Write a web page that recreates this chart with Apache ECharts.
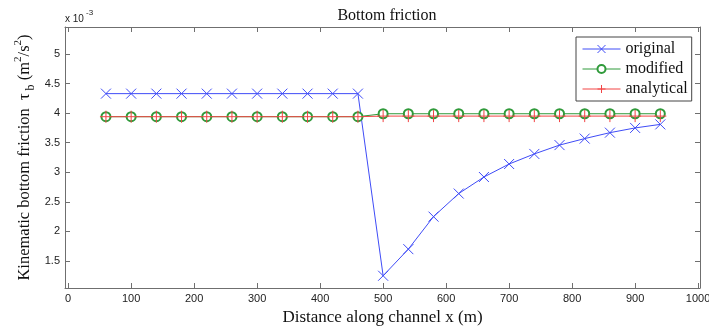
<!DOCTYPE html>
<html>
<head>
<meta charset="utf-8">
<script src="https://cdn.jsdelivr.net/npm/echarts@6/dist/echarts.min.js"></script>
<style>
  html, body { margin: 0; padding: 0; background: #fff; }
  #chart { width: 709px; height: 329px; }
</style>
</head>
<body>
<div id="chart"></div>
<script>
// distance along channel (m)
const xPos = [60, 100, 140, 180, 220, 260, 300, 340, 380, 420, 460,
  500, 540, 580, 620, 660, 700, 740, 780, 820, 860, 900, 940];
// bottom friction, x 10^-3 m^2/s^2
const original = [4.33, 4.33, 4.33, 4.33, 4.33, 4.33, 4.33, 4.33, 4.33, 4.33, 4.33,
  1.25, 1.70, 2.25, 2.64, 2.92, 3.14, 3.31, 3.46, 3.57, 3.67, 3.75, 3.81];
const modified = [3.94, 3.94, 3.94, 3.94, 3.94, 3.94, 3.94, 3.94, 3.94, 3.94, 3.94,
  3.99, 3.99, 3.99, 3.99, 3.99, 3.99, 3.99, 3.99, 3.99, 3.99, 3.99, 3.99];
const analytical = [3.94, 3.94, 3.94, 3.94, 3.94, 3.94, 3.94, 3.94, 3.94, 3.94, 3.94,
  3.95, 3.95, 3.95, 3.95, 3.95, 3.95, 3.95, 3.95, 3.95, 3.95, 3.95, 3.95];
const xTicks = [0, 100, 200, 300, 400, 500, 600, 700, 800, 900, 1000];
const yTicks = [1.5, 2, 2.5, 3, 3.5, 4, 4.5, 5];

const SERIF = '"Liberation Serif", "DejaVu Serif", serif';
const SANS = '"Liberation Sans", Arial, sans-serif';
const AXIS_COLOR = '#6f6f6f';

const CROSS = 'path://M0,0L10,10M10,0L0,10';
const PLUS = 'path://M5,0L5,10M0,5L10,5';

const pairs = (ys) => xPos.map((x, i) => [x, ys[i]]);

const chart = echarts.init(document.getElementById('chart'));

const xAxisBase = {
  type: 'value',
  min: -5,
  max: 1003,
  axisLine: { show: true, onZero: false, lineStyle: { color: AXIS_COLOR, width: 1 } },
  axisTick: { show: true, inside: true, length: 5, customValues: xTicks, lineStyle: { color: AXIS_COLOR } },
  splitLine: { show: false }
};
const yAxisBase = {
  type: 'value',
  min: 1.043,
  max: 5.457,
  axisLine: { show: true, onZero: false, lineStyle: { color: AXIS_COLOR, width: 1 } },
  axisTick: { show: true, inside: true, length: 5, customValues: yTicks, lineStyle: { color: AXIS_COLOR } },
  splitLine: { show: false }
};

chart.setOption({
  animation: false,
  backgroundColor: '#fff',
  title: {
    text: 'Bottom friction',
    left: 382,
    textAlign: 'center',
    top: 3,
    textStyle: { fontFamily: SERIF, fontSize: 16, fontWeight: 'normal', color: '#111' }
  },
  grid: { left: 65, right: 9, top: 27, bottom: 41, containLabel: false, outerBoundsMode: 'none' },
  xAxis: [
    Object.assign({}, xAxisBase, {
      position: 'bottom',
      axisLabel: {
        customValues: xTicks,
        formatter: (v) => String(v),
        fontFamily: SANS, fontSize: 11, color: '#222', margin: 5
      },
      name: 'Distance along channel x (m)',
      nameLocation: 'middle',
      nameGap: 20,
      nameTextStyle: { fontFamily: SERIF, fontSize: 17, color: '#111' }
    }),
    Object.assign({}, xAxisBase, { position: 'top', axisLabel: { show: false } })
  ],
  yAxis: [
    Object.assign({}, yAxisBase, {
      position: 'left',
      axisLabel: { customValues: yTicks, fontFamily: SANS, fontSize: 11, color: '#222', margin: 5 },
      name: '{t|Kinematic bottom friction  τ}{sub| b}{t| (m}{sup|2}{t|/s}{sup|2}{t|)}',
      nameLocation: 'middle',
      nameGap: 28,
      nameMoveOverlap: false,
      nameRotate: 90,
      nameTextStyle: {
        rich: {
          t: { fontFamily: SERIF, fontSize: 16.5, color: '#111', lineHeight: 24, verticalAlign: 'middle' },
          sub: { fontFamily: SERIF, fontSize: 12, color: '#111', lineHeight: 24, verticalAlign: 'bottom' },
          sup: { fontFamily: SERIF, fontSize: 11, color: '#111', lineHeight: 24, verticalAlign: 'top' }
        }
      }
    }),
    Object.assign({}, yAxisBase, { position: 'right', axisLabel: { show: false } })
  ],
  legend: {
    orient: 'vertical',
    left: 576,
    top: 37,
    padding: [3, 4, 3, 6],
    itemWidth: 38,
    itemHeight: 10,
    itemGap: 2,
    backgroundColor: '#fff',
    borderColor: '#444',
    borderWidth: 1,
    borderRadius: 0,
    lineStyle: { width: 1 },
    itemStyle: { borderWidth: 1 },
    textStyle: { fontFamily: SERIF, fontSize: 16, color: '#111', lineHeight: 18 },
    data: ['original', 'modified', 'analytical']
  },
  graphic: [
    { type: 'text', left: 65, top: 14, style: { text: 'x 10', fontFamily: SANS, fontSize: 10, fill: '#222' } },
    { type: 'text', left: 86, top: 9, style: { text: '-3', fontFamily: SANS, fontSize: 8, fill: '#222' } }
  ],
  series: [
    {
      name: 'original',
      type: 'line',
      data: pairs(original),
      symbol: CROSS,
      symbolSize: 10,
      showAllSymbol: true,
      color: '#3f4cf7',
      itemStyle: { color: '#3f4cf7', borderColor: '#3f4cf7', borderWidth: 1 },
      lineStyle: { color: '#3f4cf7', width: 1 }
    },
    {
      name: 'modified',
      type: 'line',
      data: pairs(modified),
      symbol: 'emptyCircle',
      symbolSize: 9,
      showAllSymbol: true,
      color: '#2f9a3a',
      itemStyle: { color: '#2f9a3a', borderColor: '#2f9a3a', borderWidth: 1 },
      lineStyle: { color: '#2f9a3a', width: 1 }
    },
    {
      name: 'analytical',
      type: 'line',
      data: pairs(analytical),
      symbol: PLUS,
      symbolSize: 12,
      showAllSymbol: true,
      color: '#f24444',
      itemStyle: { color: '#f24444', borderColor: '#f24444', borderWidth: 1 },
      lineStyle: { color: '#f24444', width: 1 }
    }
  ]
});
</script>
</body>
</html>
